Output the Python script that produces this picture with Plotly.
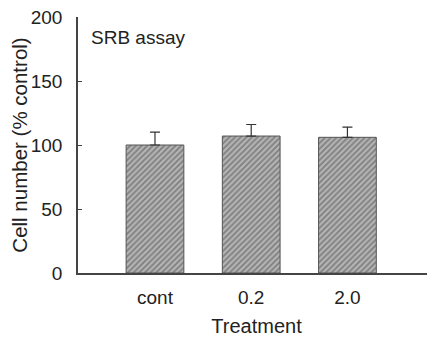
import plotly.graph_objects as go

categories = ["cont", "0.2", "2.0"]
values = [100, 107, 106]
errors = [10, 9, 8]
y_ticks = [0, 50, 100, 150, 200]

fig = go.Figure()
fig.add_trace(go.Bar(
    x=list(range(len(categories))),
    y=values,
    width=0.6,
    marker=dict(
        color="#b0b0b0",
        line=dict(color="#555555", width=1),
        pattern=dict(shape="/", fgcolor="#4a4a4a", bgcolor="#b4b4b4", size=4, solidity=0.45),
    ),
    error_y=dict(type="data", symmetric=False, array=errors, arrayminus=[0]*len(errors),
                 color="#333333", thickness=1.2, width=5),
))

font = dict(family="Liberation Sans, Arial, sans-serif", color="#222222")
# page body has an 8px margin: figure is offset by (8, 8)
fig.update_layout(
    width=427, height=330,
    margin=dict(l=70, r=0, t=9, b=65),
    plot_bgcolor="white", paper_bgcolor="white",
    showlegend=False,
    font=font,
    xaxis=dict(
        range=[-0.8, 2.91],
        automargin=False,
        tickmode="array", tickvals=list(range(len(categories))), ticktext=categories,
        showline=True, linecolor="#444444", linewidth=1.5,
        ticks="", showgrid=False, zeroline=False,
        ticklabelstandoff=6,
        tickfont=dict(size=19, **font),
        title=dict(text="Treatment", font=dict(size=20, **font), standoff=12),
    ),
    yaxis=dict(
        range=[0, 200],
        automargin=False,
        tickmode="array", tickvals=y_ticks,
        showline=True, linecolor="#444444", linewidth=1.5,
        ticks="inside", ticklen=4, tickcolor="#444444",
        ticklabelstandoff=10,
        ticklabeloverflow="allow",
        showgrid=False, zeroline=False,
        tickfont=dict(size=19, **font),
        title=dict(text="Cell number (% control)", font=dict(size=20.5, **font), standoff=11),
    ),
    annotations=[dict(text="SRB assay", x=0.03, y=0.97, xref="paper", yref="paper",
                      xanchor="left", yanchor="top", showarrow=False,
                      font=dict(size=19, **font))],
)
fig.write_html("out.html")
